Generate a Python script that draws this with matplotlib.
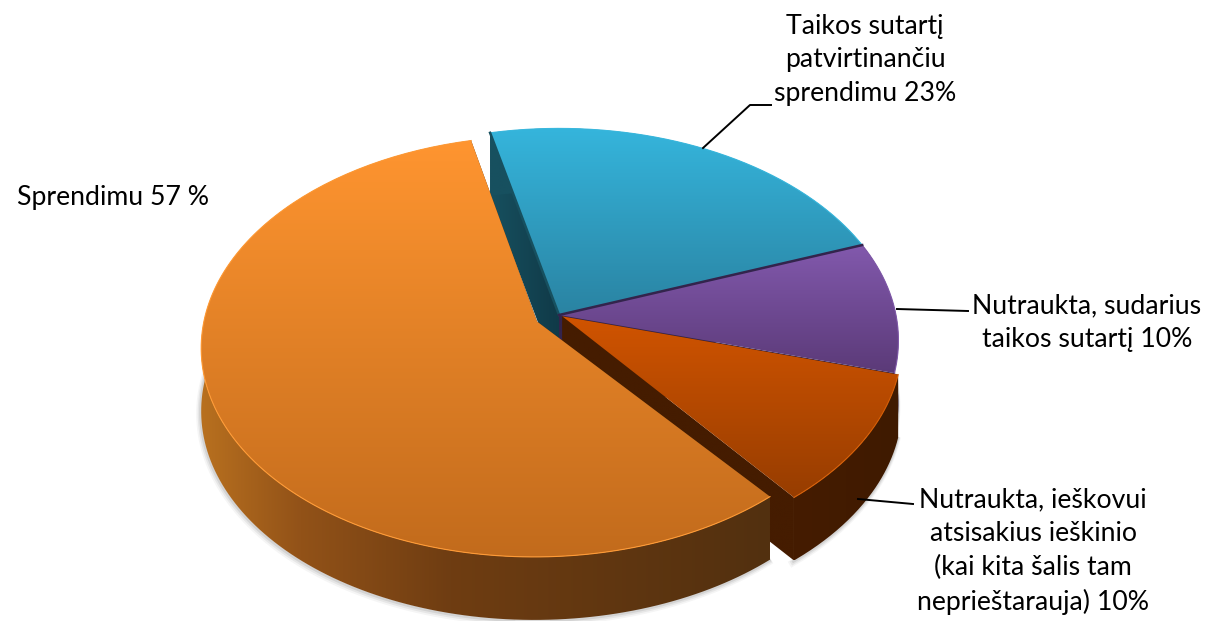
import numpy as np
import matplotlib
matplotlib.use("Agg")
import matplotlib.pyplot as plt
from matplotlib.transforms import Transform
from matplotlib.path import Path
from matplotlib.patches import PathPatch
from matplotlib.colors import LinearSegmentedColormap as LSC

# data (clockwise from the blue slice)
names = ["Taikos sutartį patvirtinančiu sprendimu", "Nutraukta, sudarius taikos sutartį",
         "Nutraukta, ieškovui atsisakius ieškinio", "Sprendimu"]
shares = [23, 10, 10, 57]
label_texts = ["Taikos sutartį\npatvirtinančiu\nsprendimu 23%",
               "Nutraukta, sudarius\ntaikos sutartį 10%",
               "Nutraukta, ieškovui\natsisakius ieškinio\n(kai kita šalis tam\nneprieštarauja) 10%",
               "Sprendimu 57 %"]

# geometry / style of the tilted disc
CX, CY, A, B, K, DEPTH = 559, 315, 337, 209, 0.12, 63
explode = [0.0, 0.0, 0.012, 0.072]
face_scale = [1.0, 1.0, 1.0, 0.985]
gap_trim = [0, 0, 0, -1.5]
top_cols = [("#35b5dc", "#2a83a2"), ("#8259ad", "#5b3a78"), ("#d15400", "#973d00"), ("#ff9530", "#c26b1c")]
rim_cols = ["#39b8de", "#7f58a8", "#d86008", "#ff9a35"]
cut_cols = ["#17505f", "#33244c", "#451c00", "#52300f"]


class Tilt(Transform):
    input_dims = output_dims = 2
    def __init__(self, z=0.0):
        super().__init__()
        self.z = z
    def transform_non_affine(self, pts):
        pts = np.asarray(pts, float)
        w = 1 + K * pts[:, 1]
        return np.column_stack([CX + A * pts[:, 0] / w, CY - B * pts[:, 1] / w + self.z])


top = Tilt()
bottom = Tilt(DEPTH)

fig = plt.figure(figsize=(12.10, 6.21), dpi=100)
ax = fig.add_axes([0, 0, 1, 1])
wedges, _ = ax.pie(shares, startangle=103.2, counterclock=False, explode=explode)
ax.set_aspect("auto")
ax.set_xlim(0, 1210)
ax.set_ylim(621, 0)
ax.axis("off")


def arc(w, scale=1.0, trim=0.0, n=160):
    t = np.radians(np.linspace(w.theta1, w.theta2 - trim, n))
    r = w.r * scale
    return np.column_stack([w.center[0] + r * np.cos(t), w.center[1] + r * np.sin(t)])


def fill(path_pts, cmap, vertical, z):
    cm = LSC.from_list("c", cmap)
    xy = np.asarray(path_pts)
    x0, x1, y0, y1 = xy[:, 0].min(), xy[:, 0].max(), xy[:, 1].min(), xy[:, 1].max()
    g = np.linspace(0, 1, 256)
    g = g[:, None] if vertical else g[None, :]
    im = ax.imshow(g, cmap=cm, extent=(x0, x1, y1, y0), aspect="auto", zorder=z, interpolation="bilinear")
    im.set_clip_path(PathPatch(Path(xy, closed=False), transform=ax.transData))


def prism(pts2d):
    p_top = top.transform_non_affine(pts2d)
    p_bot = bottom.transform_non_affine(pts2d)
    return np.vstack([p_top, p_bot[::-1], p_top[:1]])


orange_wall = [(205, "#b8701f"), (300, "#925218"), (450, "#6f3d12"), (770, "#52300f")]
z = 2
for i in range(4):
    w = wedges[i]
    w.set_visible(False)
    c = np.array(w.center)
    rim = arc(w, face_scale[i], gap_trim[i])
    angs = np.linspace(w.theta1, w.theta2 - gap_trim[i], len(rim))

    # soft shadow under the front wall
    front = rim[np.sin(np.radians(angs)) < 0.25]
    if len(front) > 1:
        low = bottom.transform_non_affine(front)
        for s, al in zip((5, 3.5, 2), (0.06, 0.09, 0.13)):
            ax.plot(low[:, 0] - s * 0.3, low[:, 1] + s * 0.5, color="#555555", alpha=al, lw=s, zorder=z)
    z += 1

    # cut faces
    for k in (0, -1):
        poly = prism(np.vstack([c, rim[k]]))
        cols = ["#17505f", "#103a48"] if i == 0 else [cut_cols[i], cut_cols[i]]
        fill(poly, cols, False, z)
    z += 1

    # outer wall
    poly = prism(rim)
    if i == 3:
        x0, x1 = poly[:, 0].min(), poly[:, 0].max()
        stops = [(min(max((x - x0) / (x1 - x0), 0), 1), col) for x, col in orange_wall]
        stops[0] = (0, stops[0][1])
        stops[-1] = (1, stops[-1][1])
        fill(poly, stops, False, z)
    elif i == 2:
        fill(poly, ["#451c00", "#3f1a00"], False, z)
    else:
        fill(poly, [cut_cols[i], cut_cols[i]], False, z)
    z += 1

    # top face
    face = np.vstack([c, rim, c])
    pface = top.transform_non_affine(face)
    fill(pface, list(top_cols[i]), True, z)
    z += 1
    ptop = top.transform_non_affine(rim)
    ax.plot(ptop[:, 0], ptop[:, 1], color=rim_cols[i], lw=0.8, zorder=z)
    if i in (0, 1):
        ax.plot(pface[[0, -2], 0], pface[[0, -2], 1], color=cut_cols[i], lw=1.8, zorder=z)
    z += 1

# leader lines
for xs, ys in [((703, 750, 771), (148, 105, 105)),
               ((897, 968), (309, 311)),
               ((858, 913), (499, 504))]:
    ax.plot(xs, ys, color="black", lw=1.4, zorder=z)

# labels
font = dict(family=["Lato", "DejaVu Sans"], fontsize=19.2, color="black", zorder=z + 1,
            ha="center", va="center", linespacing=1.44)
ax.text(865, 60, label_texts[0], **font)
ax.text(1087, 323, label_texts[1], **font)
ax.text(1033, 551, label_texts[2], **font)
ax.text(113, 198, label_texts[3], **font)

fig.savefig("out.png", dpi=100)
